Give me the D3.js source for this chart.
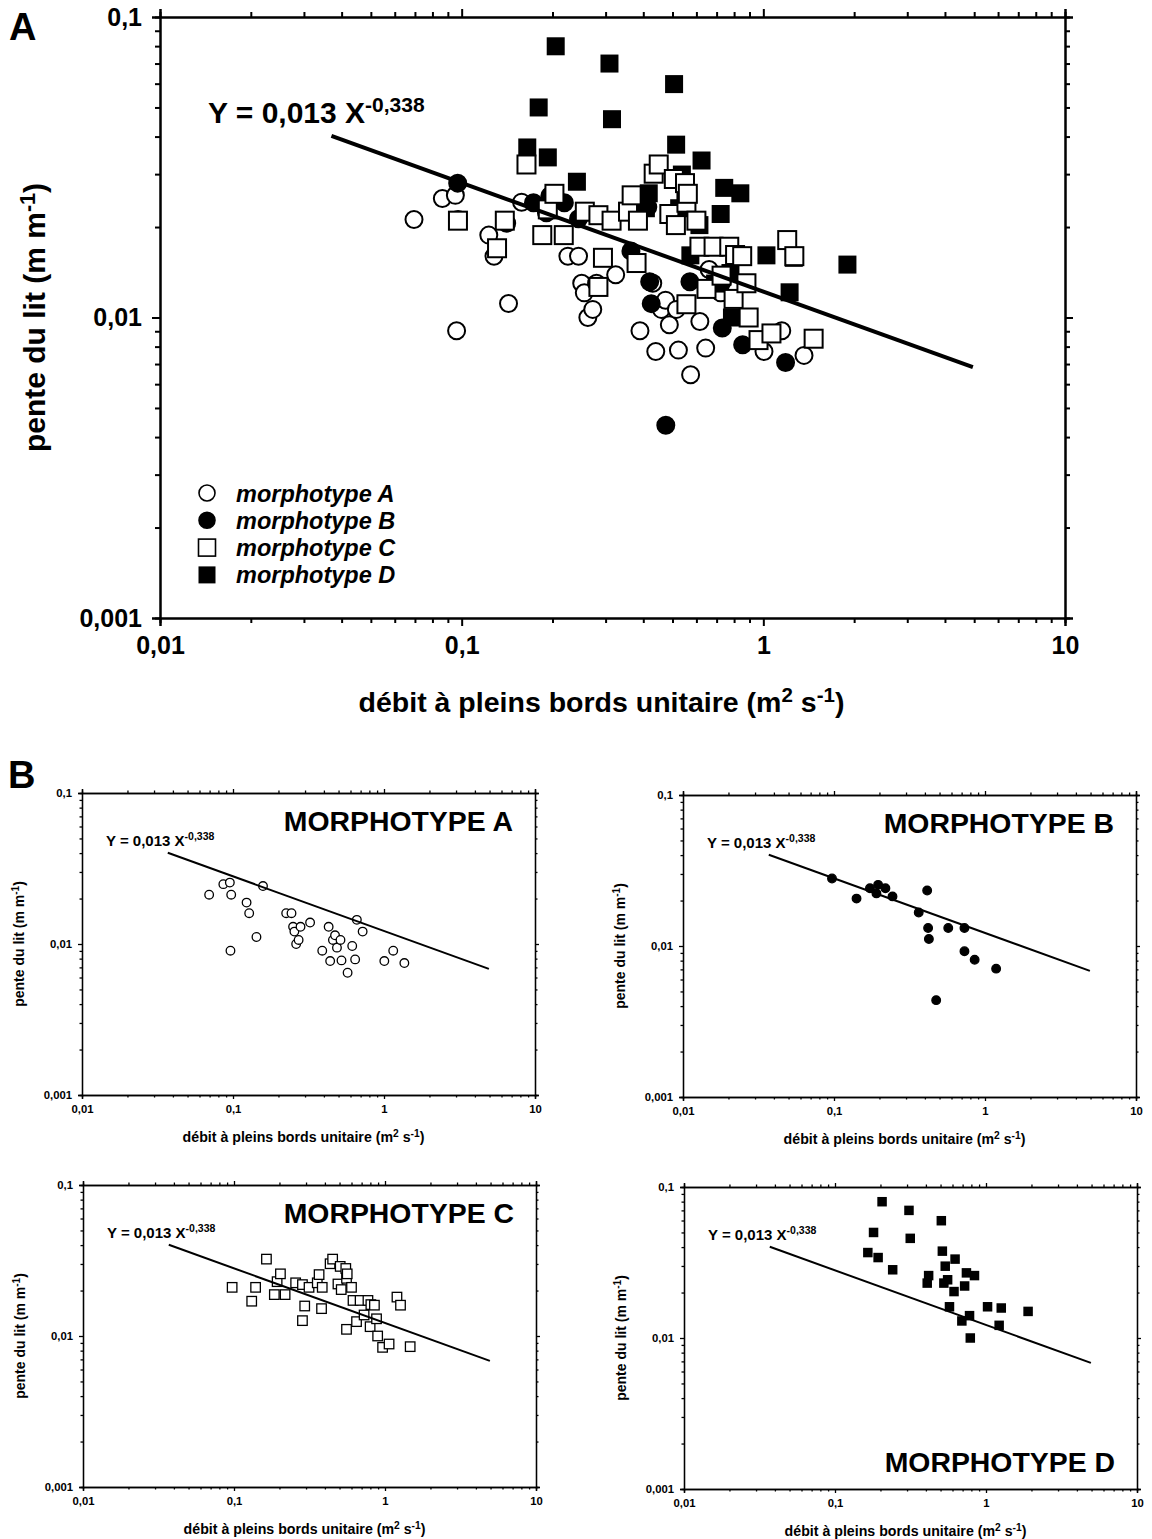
<!DOCTYPE html>
<html>
<head>
<meta charset="utf-8">
<style>
  body { margin: 0; background: #fff; }
  svg { display: block; font-family: "Liberation Sans", Arial, sans-serif; font-weight: bold; }
</style>
</head>
<body>
<svg width="1152" height="1539"></svg>
<script src="https://d3js.org/d3.v7.min.js"></script>
<script>
// values (débit unitaire q in m2/s, pente S in m/m)
const morphA_q = [0.0695,0.0863,0.0953,0.0973,0.0962,0.123,0.128,0.143,0.158,0.225,0.244,0.250,0.255,0.280,0.262,0.272,0.324,0.390,0.430,0.440,0.459,0.474,0.488,0.515,0.523,0.574,0.616,0.644,0.661,0.722,1.005,1.151,1.364];
const morphA_s = [0.0212,0.0249,0.0255,0.0212,0.00903,0.0188,0.0160,0.01113,0.0242,0.0160,0.0160,0.0130,0.01208,0.0130,0.0100,0.01064,0.01387,0.00903,0.0130,0.00771,0.01064,0.01142,0.00946,0.01064,0.00779,0.00645,0.00970,0.00791,0.01445,0.01208,0.00771,0.00903,0.00748];

const morphB_q = [0.097,0.141,0.173,0.196,0.191,0.219,0.244,0.364,0.414,0.420,0.425,0.571,0.731,0.731,0.854,1.185,0.475];
const morphB_s = [0.0280,0.0206,0.0241,0.0254,0.0223,0.0241,0.0213,0.01665,0.0233,0.01316,0.01112,0.01316,0.01316,0.00923,0.00811,0.00708,0.00438];

const morphC_q = [0.0972,0.131,0.139,0.164,0.193,0.203,0.185,0.218,0.256,0.284,0.284,0.294,0.314,0.356,0.366,0.380,0.384,0.433,0.450,0.488,0.505,0.513,0.550,0.556,0.556,0.562,0.600,0.614,0.648,0.684,0.727,0.771,0.797,0.806,0.851,0.879,0.894,0.964,1.064,1.200,1.267,1.468];
const morphC_s = [0.0210,0.0170,0.0210,0.0323,0.0229,0.0258,0.0188,0.0188,0.0225,0.0219,0.01264,0.0158,0.0210,0.0225,0.0255,0.01518,0.0210,0.0301,0.0323,0.0221,0.0289,0.0203,0.0280,0.0241,0.01107,0.0258,0.0210,0.0172,0.01245,0.0172,0.01378,0.0172,0.01153,0.01614,0.0160,0.0130,0.0100,0.00841,0.00885,0.0181,0.0160,0.00850];

const morphD_q = [0.205,0.309,0.506,0.180,0.315,0.165,0.193,0.241,0.514,0.624,0.537,0.417,0.408,0.557,0.526,0.742,0.839,0.722,0.614,0.573,1.024,1.262,1.900,0.778,0.692,1.222,0.787];
const morphD_s = [0.0799,0.0700,0.0598,0.0500,0.0457,0.0368,0.0341,0.0283,0.0376,0.0333,0.0299,0.0259,0.0231,0.0243,0.0231,0.0270,0.0259,0.0221,0.0203,0.0161,0.0161,0.0158,0.0150,0.01406,0.01297,0.01213,0.0100];

// fitted power law, drawn end to end
const fitQ = [0.037, 4.95];
const fitS = [0.0402, 0.00684];

const xTicks = [0.01, 0.1, 1, 10];
const yTicks = [0.001, 0.01, 0.1];
const seriesNames = ["morphotype A", "morphotype B", "morphotype C", "morphotype D"];
const panelTitles = ["MORPHOTYPE A", "MORPHOTYPE B", "MORPHOTYPE C", "MORPHOTYPE D"];

const series = [
  {q: morphA_q, s: morphA_s, shape: "circle", fill: "#fff"},
  {q: morphB_q, s: morphB_s, shape: "circle", fill: "#000"},
  {q: morphC_q, s: morphC_s, shape: "square", fill: "#fff"},
  {q: morphD_q, s: morphD_s, shape: "square", fill: "#000"}
];

const svg = d3.select("svg");
const fmt = d => String(d).replace(".", ",");

function drawMarks(g, x, y, ser, r, sq, sw) {
  const pts = ser.q.map((q, i) => [q, ser.s[i]]);
  if (ser.shape === "circle") {
    g.append("g").selectAll("circle").data(pts).enter().append("circle")
      .attr("cx", d => x(d[0])).attr("cy", d => y(d[1])).attr("r", r)
      .attr("fill", ser.fill).attr("stroke", "#000").attr("stroke-width", sw);
  } else {
    g.append("g").selectAll("rect").data(pts).enter().append("rect")
      .attr("x", d => x(d[0]) - sq / 2).attr("y", d => y(d[1]) - sq / 2)
      .attr("width", sq).attr("height", sq)
      .attr("fill", ser.fill).attr("stroke", "#000").attr("stroke-width", ser.fill === "#000" ? 0 : sw);
  }
}

function frame(g, x, y, o) {
  const w = o.w, h = o.h;
  const minorX = x.ticks().filter(t => xTicks.indexOf(t) < 0);
  const minorY = y.ticks().filter(t => yTicks.indexOf(t) < 0);
  const defs = [
    [d3.axisBottom, x, xTicks, minorX, [0, h], true],
    [d3.axisTop, x, xTicks, minorX, [0, 0], false],
    [d3.axisLeft, y, yTicks, minorY, [0, 0], true],
    [d3.axisRight, y, yTicks, minorY, [w, 0], false]
  ];
  defs.forEach(([ax, sc, major, minor, pos, lab]) => {
    const gm = g.append("g").attr("transform", `translate(${pos[0]},${pos[1]})`)
      .call(ax(sc).tickValues(minor).tickSize(o.minor).tickFormat(""));
    const ga = g.append("g").attr("transform", `translate(${pos[0]},${pos[1]})`)
      .call(ax(sc).tickValues(major).tickSize(o.major).tickPadding(o.pad).tickFormat(lab ? fmt : ""));
    [gm, ga].forEach(a => {
      a.selectAll("line").attr("stroke", "#000").attr("stroke-width", o.sw);
      a.select(".domain").attr("stroke", "#000").attr("stroke-width", o.sw);
    });
    ga.selectAll("text").attr("font-size", o.tickFont).attr("font-weight", "bold")
      .attr("font-family", "Liberation Sans, Arial, sans-serif").attr("fill", "#000");
  });
}

function equation(g, xPos, yPos, size) {
  const t = g.append("text").attr("x", xPos).attr("y", yPos).attr("font-size", size);
  t.append("tspan").text("Y = 0,013 X");
  t.append("tspan").attr("font-size", size * 0.7).attr("dy", -size * 0.38).text("-0,338");
}

function panel(o, which) {
  const g = svg.append("g").attr("transform", `translate(${o.x},${o.y})`);
  const x = d3.scaleLog().domain([0.01, 10]).range([0, o.w]);
  const y = d3.scaleLog().domain([0.001, 0.1]).range([o.h, 0]);
  frame(g, x, y, o);

  which.forEach(i => drawMarks(g, x, y, series[i], o.r, o.sq, o.msw));

  g.append("path")
    .attr("d", d3.line().x(d => x(d[0])).y(d => y(d[1]))(fitQ.map((q, i) => [q, fitS[i]])))
    .attr("fill", "none").attr("stroke", "#000").attr("stroke-width", o.lw);

  // axis titles
  const xt = g.append("text").attr("x", o.w / 2 + o.xShift).attr("y", o.h + o.xTitle)
    .attr("text-anchor", "middle").attr("font-size", o.xFont);
  xt.append("tspan").text("débit à pleins bords unitaire (m");
  xt.append("tspan").attr("font-size", o.xFont * 0.72).attr("dy", -o.xFont * 0.35).text("2");
  xt.append("tspan").attr("dy", o.xFont * 0.35).text(" s");
  xt.append("tspan").attr("font-size", o.xFont * 0.72).attr("dy", -o.xFont * 0.35).text("-1");
  xt.append("tspan").attr("dy", o.xFont * 0.35).text(")");

  const yt = g.append("text").attr("transform", `translate(${o.yTitle},${o.h / 2}) rotate(-90)`)
    .attr("text-anchor", "middle").attr("font-size", o.yFont);
  yt.append("tspan").text("pente du lit (m m");
  yt.append("tspan").attr("font-size", o.yFont * 0.72).attr("dy", -o.yFont * 0.35).text("-1");
  yt.append("tspan").attr("dy", o.yFont * 0.35).text(")");
  return {g, x, y};
}

// ---- A : all morphotypes together
const main = panel({x: 160, y: 17, w: 905, h: 601, sw: 2, major: 8, minor: 5, pad: 10,
  tickFont: 25, xFont: 28.5, yFont: 30, xTitle: 94, xShift: -11, yTitle: -115,
  r: 8.5, sq: 18, msw: 2, lw: 4}, [0, 1, 3, 2]);
equation(main.g, 48, 106, 30);

const leg = main.g.append("g").attr("transform", "translate(47,476)");
seriesNames.forEach((name, i) => {
  const row = leg.append("g").attr("transform", `translate(0,${i * 27.3})`);
  const ser = series[i];
  if (ser.shape === "circle") {
    row.append("circle").attr("r", 8).attr("fill", ser.fill).attr("stroke", "#000").attr("stroke-width", 1.6);
  } else {
    row.append("rect").attr("x", -8.5).attr("y", -8.5).attr("width", 17).attr("height", 17)
      .attr("fill", ser.fill).attr("stroke", "#000").attr("stroke-width", ser.fill === "#000" ? 0 : 1.6);
  }
  row.append("text").attr("x", 29).attr("y", 8.5).attr("font-size", 23.5).attr("font-style", "italic").text(name);
});

svg.append("text").attr("x", 9).attr("y", 40).attr("font-size", 38).text("A");
svg.append("text").attr("x", 8).attr("y", 788).attr("font-size", 38).text("B");

// ---- B : one panel per morphotype
const small = [
  {x: 82, y: 793}, {x: 683, y: 795}, {x: 83, y: 1185}, {x: 684, y: 1187}
];
small.forEach((p, i) => {
  const o = Object.assign({w: 453, h: 302, sw: 1.3, major: 4, minor: 2.5, pad: 6,
    tickFont: 11.3, xFont: 14.2, yFont: 14, xTitle: 47, xShift: -5, yTitle: -58,
    r: 4.3, sq: 9.5, msw: 1.3, lw: 2}, p);
  const pg = panel(o, [i]);
  equation(pg.g, 24, 53, 15);
  const ty = i === 3 ? o.h - 17 : 38;
  pg.g.append("text").attr("x", o.w - 22).attr("y", ty).attr("text-anchor", "end")
    .attr("font-size", 28.4).text(panelTitles[i]);
});
</script>
</body>
</html>
